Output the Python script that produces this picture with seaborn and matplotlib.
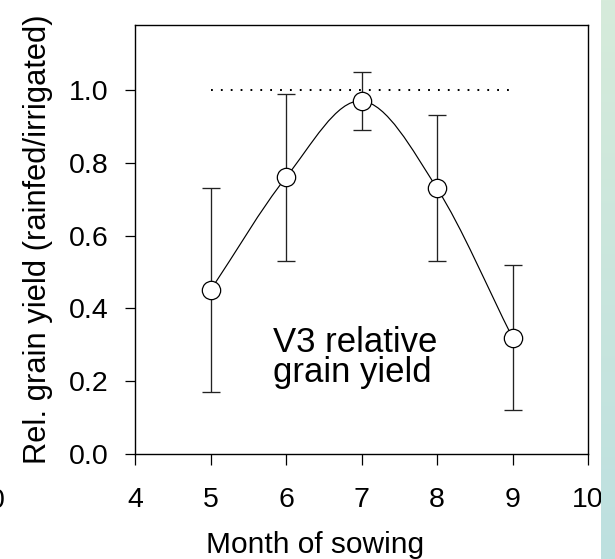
import numpy as np
import pandas as pd
import matplotlib
matplotlib.use("Agg")
import matplotlib.pyplot as plt
from matplotlib.path import Path
from matplotlib.patches import PathPatch
from matplotlib.colors import LinearSegmentedColormap
import seaborn as sns

# Sowing month vs. relative grain yield (rainfed / irrigated) for V3
months = [5, 6, 7, 8, 9]
rel_yield = [0.45, 0.76, 0.97, 0.73, 0.32]
err_upper = [0.73, 0.99, 1.05, 0.93, 0.52]
err_lower = [0.17, 0.53, 0.89, 0.53, 0.12]
reference_level = 1.0
x_ticks = [4, 5, 6, 7, 8, 9, 10]
y_ticks = [0.0, 0.2, 0.4, 0.6, 0.8, 1.0]

df = pd.DataFrame({"month": months, "yield": rel_yield,
                   "upper": err_upper, "lower": err_lower})

sns.set_theme(style="ticks")
plt.rcParams["font.family"] = ["Liberation Sans", "DejaVu Sans"]
plt.rcParams.update({"text.color": "black", "axes.labelcolor": "black",
                     "xtick.color": "black", "ytick.color": "black"})

W, H = 615, 559
fig = plt.figure(figsize=(W / 100, H / 100), dpi=100)
ax = fig.add_axes([135 / W, 105 / H, 453 / W, 429 / H])

# smooth curve through the means (Catmull-Rom spline as cubic Bezier segments)
pts = np.column_stack([df["month"], df["yield"]]).astype(float)
ext = np.vstack([2 * pts[0] - pts[1], pts, 2 * pts[-1] - pts[-2]])
verts = [tuple(pts[0])]
codes = [Path.MOVETO]
for i in range(1, len(ext) - 2):
    p0, p1, p2, p3 = ext[i - 1], ext[i], ext[i + 1], ext[i + 2]
    c1 = p1 + (p2 - p0) / 6.0
    c2 = p2 - (p3 - p1) / 6.0
    verts += [tuple(c1), tuple(c2), tuple(p2)]
    codes += [Path.CURVE4] * 3
ax.add_patch(PathPatch(Path(verts, codes), facecolor="none",
                       edgecolor="black", linewidth=0.85, zorder=2))

# error bars
yerr = np.vstack([df["yield"] - df["lower"], df["upper"] - df["yield"]])
ax.errorbar(df["month"], df["yield"], yerr=yerr, fmt="none",
            ecolor="#222222", elinewidth=0.95, capsize=6.7, capthick=0.95,
            zorder=2)

# dotted reference line at 1.0
ax.hlines(reference_level, months[0], months[-1], colors="black",
          linestyles=(0, (0.9, 4.0)), linewidth=1.45, zorder=1)

# open circle markers
sns.scatterplot(data=df, x="month", y="yield", ax=ax, s=13.2 ** 2,
                marker="o", facecolor="white", edgecolor="black",
                linewidth=0.9, zorder=3, legend=False)

ax.text(5.83, 0.281, "V3 relative", fontsize=25, ha="left", va="baseline")
ax.text(5.83, 0.199, "grain yield", fontsize=25, ha="left", va="baseline")

ax.set_xlim(4, 10)
ax.set_ylim(0, 1.1786)
ax.set_xticks(x_ticks)
ax.set_yticks(y_ticks)
ax.set_xticklabels([str(t) for t in x_ticks])
ax.set_yticklabels([f"{t:.1f}" for t in y_ticks])

for s in ax.spines.values():
    s.set_visible(True)
    s.set_linewidth(1.0)
    s.set_color("black")

ax.tick_params(axis="x", direction="out", length=8, width=0.9,
               pad=16, labelsize=20.5)
ax.tick_params(axis="y", direction="out", length=7.2, width=0.9,
               pad=12, labelsize=20.5)

ax.set_xlabel("Month of sowing", fontsize=21.5)
ax.set_ylabel("Rel. grain yield (rainfed/irrigated)", fontsize=22.2)
ax.xaxis.set_label_coords(0.397, -0.1795)
ax.yaxis.set_label_coords(-0.181, 0.5)

# fragment of a neighbouring tick label at the left edge
fig.text(5 / W, (H - 488) / H, "0", fontsize=20.5, ha="right", va="top")

# coloured strip on the right edge
strip = fig.add_axes([601 / W, 0, 14 / W, 1], zorder=10)
grad_cmap = LinearSegmentedColormap.from_list("strip", ["#d6ebda", "#bde0e0"])
strip.imshow(np.linspace(0, 1, 256).reshape(-1, 1), aspect="auto",
             cmap=grad_cmap, extent=[0, 1, 1, 0])
strip.set_axis_off()

fig.savefig("out.png", dpi=100)
